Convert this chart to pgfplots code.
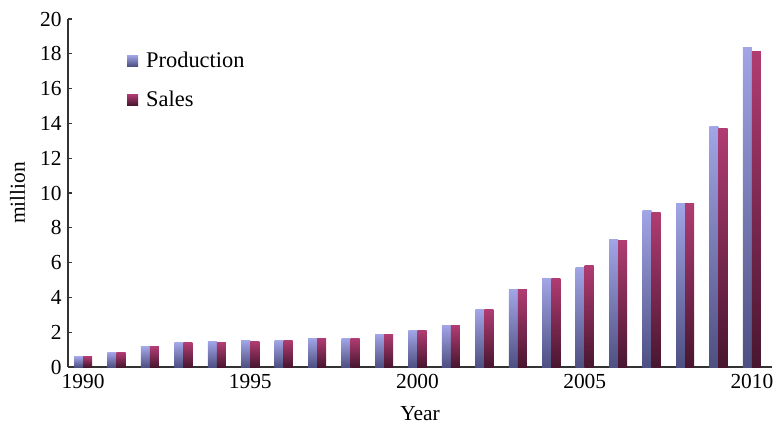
\documentclass[border=0pt]{standalone}
\usepackage{pgfplots}
\usepackage{pgfplotstable}
\pgfplotsset{compat=1.18}
\usepackage{fontspec}
\setmainfont{Liberation Serif}

\definecolor{prodtop}{HTML}{A2A5E6}
\definecolor{prodbot}{HTML}{4E4F82}
\definecolor{saletop}{HTML}{B03C72}
\definecolor{salebot}{HTML}{48162F}
\definecolor{axisgray}{HTML}{333333}

% Vehicle production and sales, million units
\pgfplotstableread{
year prod  sales
1990 0.60  0.60
1991 0.84  0.84
1992 1.15  1.15
1993 1.38  1.38
1994 1.47  1.38
1995 1.53  1.47
1996 1.53  1.53
1997 1.65  1.65
1998 1.65  1.65
1999 1.88  1.88
2000 2.09  2.09
2001 2.40  2.40
2002 3.28  3.28
2003 4.47  4.47
2004 5.10  5.10
2005 5.74  5.85
2006 7.35  7.25
2007 8.98  8.86
2008 9.42  9.42
2009 13.81 13.71
2010 18.35 18.12
}\datatable

\begin{document}
\begin{tikzpicture}
\begin{axis}[
  at={(0,0)}, anchor=origin,
  scale only axis,
  width=704bp, height=348bp,
  xmin=1989.55, xmax=2010.6,
  ymin=0, ymax=20,
  axis lines=left,
  axis line style={axisgray, line width=1.6pt, -},
  xtick={1990,1995,2000,2005,2010},
  x tick label style={/pgf/number format/1000 sep={}},
  ytick={0,2,...,20},
  y tick label style={xshift=-3bp},
  major tick length=4bp,
  xtick style={draw=none},
  ytick style={axisgray, line width=1.2pt},
  tick align=inside,
  /pgf/number format/assume math mode=true,
  tick label style={font=\fontsize{21.5}{23}\selectfont, text=black},
  xlabel={Year}, ylabel={million},
  label style={font=\fontsize{21.5}{23}\selectfont},
  xlabel style={at={(axis description cs:0.5,0)}, anchor=center, yshift=-47bp},
  ylabel style={at={(axis description cs:-0.0717,0.5)}, anchor=center},
  ybar, bar width=0.27,
  legend style={draw=none, fill=none, inner sep=0pt, at={(0.0838,0.911)}, anchor=north west,
    font=\fontsize{22.5}{24}\selectfont, row sep=18bp,
    /tikz/every odd column/.append style={column sep=6bp}},
  legend image code/.code={\path[#1] (0bp,-5.5bp) rectangle (11bp,5.5bp);},
  legend cell align=left,
  clip=false,
]
% one plot per bar so each bar gets its own vertical gradient
\pgfplotsinvokeforeach{1990,...,2010}{
  \addplot[forget plot, draw=none, bar shift=-0.135, top color=prodtop, bottom color=prodbot,
    restrict x to domain=#1:#1] table[x=year, y=prod] {\datatable};
  \addplot[forget plot, draw=none, bar shift=0.135, top color=saletop, bottom color=salebot,
    restrict x to domain=#1:#1] table[x=year, y=sales] {\datatable};
}
\addlegendimage{draw=none, top color=prodtop, bottom color=prodbot}
\addlegendentry{Production}
\addlegendimage{draw=none, top color=saletop, bottom color=salebot}
\addlegendentry{Sales}
\end{axis}
\useasboundingbox (-68bp,-57bp) rectangle (709bp,367bp);
\end{tikzpicture}
\end{document}
